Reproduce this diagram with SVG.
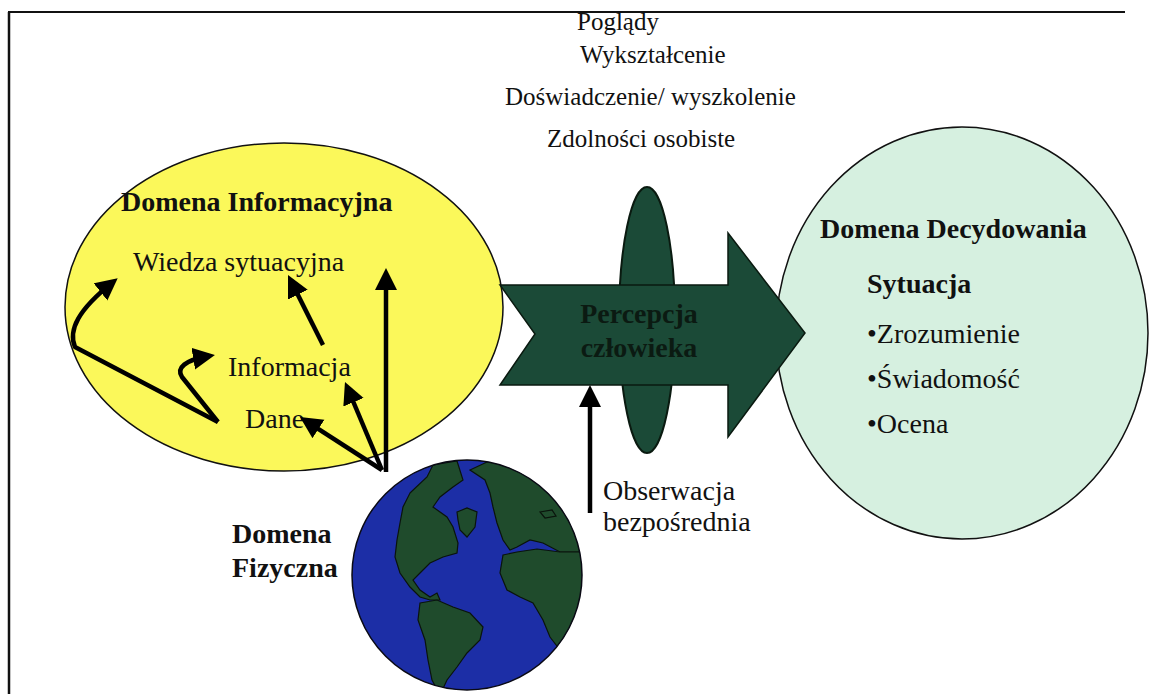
<svg xmlns="http://www.w3.org/2000/svg" width="1151" height="694" viewBox="0 0 1151 694">
<defs>
<style>
.t{font-family:"Liberation Serif","Times New Roman",serif;fill:#111;}
.r{font-size:28px;}
.s{font-size:25px;}
.b{font-size:28px;font-weight:bold;}
.con{fill:none;stroke:#000;stroke-width:4.5;stroke-linejoin:round;}
.land{fill:#1f4b2c;stroke:#0a140c;stroke-width:1.2;}
</style>
<marker id="ah" markerUnits="userSpaceOnUse" markerWidth="24" markerHeight="24" refX="16" refY="11" orient="auto">
<path d="M0,0 L22,11 L0,22 Z" fill="#000"/>
</marker>
<clipPath id="gc"><circle cx="467" cy="575" r="115"/></clipPath>
</defs>
<rect width="1151" height="694" fill="#fff"/>
<g id="frame" stroke="#111" fill="none">
<line x1="8" y1="12" x2="1125" y2="12" stroke-width="2"/>
<line x1="9" y1="12" x2="9" y2="694" stroke-width="2.5"/>
</g>

<g id="domena-informacyjna">
<ellipse cx="284" cy="307" rx="219" ry="164" fill="#fbf85a" stroke="#111" stroke-width="1.5"/>
<text class="t b" x="121" y="211">Domena Informacyjna</text>
<text class="t r" x="133" y="271">Wiedza sytuacyjna</text>
<text class="t r" x="228" y="376">Informacja</text>
<text class="t r" x="245" y="428">Dane</text>
</g>

<g id="domena-decydowania">
<ellipse cx="962" cy="333" rx="186" ry="206" fill="#d6f0e0" stroke="#111" stroke-width="1.5"/>
<text class="t b" x="820" y="238">Domena Decydowania</text>
<text class="t b" x="867" y="293">Sytuacja</text>
<text class="t r" x="867" y="343">•Zrozumienie</text>
<text class="t r" x="867" y="388">•Świadomość</text>
<text class="t r" x="867" y="433">•Ocena</text>
</g>

<g id="czynniki">
<ellipse cx="647" cy="320" rx="28" ry="133" fill="#1b4a37" stroke="#0a1a10" stroke-width="2"/>
<text class="t s" x="577" y="30">Poglądy</text>
<text class="t s" x="580" y="63">Wykształcenie</text>
<text class="t s" x="505" y="105">Doświadczenie/ wyszkolenie</text>
<text class="t s" x="547" y="147">Zdolności osobiste</text>
</g>

<g id="percepcja">
<path d="M500,285 L728,285 L728,233 L805,333 L728,437 L728,385 L500,385 L535,334 Z" fill="#1b4a37" stroke="#0a1a10" stroke-width="1.5"/>
<text class="t b" x="639" y="323" text-anchor="middle" fill="#0b1a12" style="fill:#0b1a12">Percepcja</text>
<text class="t b" x="639" y="357" text-anchor="middle" style="fill:#0b1a12">człowieka</text>
</g>

<g id="domena-fizyczna">
<circle cx="467" cy="575" r="115" fill="#1c2ea6"/>
<g clip-path="url(#gc)">
<path class="land" d="M410,493 L427,477 L433,465 L457,461 L463,480 L453,487 L440,497 L433,507 L447,517 L453,527 L458,543 L457,553 L443,557 L430,563 L420,573 L413,580 L420,590 L430,597 L437,593 L440,600 L430,600 L420,597 L410,587 L400,573 L395,557 L397,540 L400,523 L403,507 Z"/>
<path class="land" d="M457,512 L467,508 L477,512 L475,527 L467,537 L460,530 L458,520 Z"/>
<path class="land" d="M470,470 L487,462 L510,458 L530,460 L560,462 L590,470 L590,552 L560,552 L543,543 L530,540 L517,547 L510,550 L503,540 L497,523 L493,507 L490,493 L485,480 Z"/>
<path class="land" d="M540,512 L552,510 L556,516 L545,518 Z" fill="#1c2ea6"/>
<path class="land" d="M503,555 L517,552 L537,549 L560,552 L590,552 L590,660 L560,650 L550,637 L543,620 L533,603 L520,597 L507,590 L500,573 Z"/>
<path class="land" d="M420,603 L437,600 L453,607 L470,613 L483,627 L480,640 L467,653 L457,667 L447,680 L440,695 L432,680 L428,660 L425,640 L418,620 Z"/>
</g>
<circle cx="467" cy="575" r="115" fill="none" stroke="#0a0a14" stroke-width="1.5"/>
<text class="t b" x="232" y="543">Domena</text>
<text class="t b" x="232" y="577">Fizyczna</text>
</g>

<g id="obserwacja">
<text class="t r" x="603" y="500">Obserwacja</text>
<text class="t r" x="603" y="531">bezpośrednia</text>
</g>

<g id="connectors">
<path class="con" d="M386,472 L386,274" marker-end="url(#ah)"/>
<path class="con" d="M382,470 L347.3,387.5" marker-end="url(#ah)"/>
<path class="con" d="M382,470 L305,420.3" marker-end="url(#ah)"/>
<path class="con" d="M323,345 L290.7,280.4" marker-end="url(#ah)"/>
<path class="con" d="M218,422 L75,347 C68,330 78,310 113,282" marker-end="url(#ah)"/>
<path class="con" d="M218,422 L182,377 C176,368 185,360 209,356" marker-end="url(#ah)"/>
<path class="con" d="M590,513 L590,391" marker-end="url(#ah)"/>
</g>
</svg>
